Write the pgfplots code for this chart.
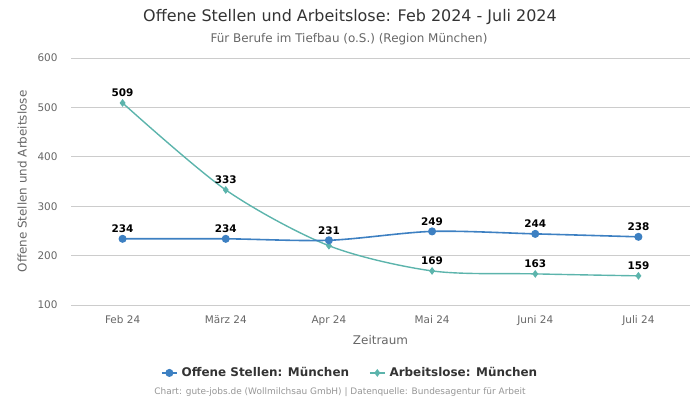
\documentclass[border=0pt]{standalone}
\usepackage{pgfplots}
\pgfplotsset{compat=1.18}
\usepackage{fontspec}
\setmainfont{DejaVu Sans}
\definecolor{cblue}{RGB}{61,128,194}
\definecolor{cteal}{RGB}{92,180,172}
\definecolor{tgray}{RGB}{102,102,102}
\definecolor{ggray}{RGB}{204,204,204}
\definecolor{dark}{RGB}{51,51,51}
\definecolor{src}{RGB}{150,150,150}
\begin{document}
\begin{tikzpicture}[x=1bp,y=1bp]
\useasboundingbox (0,0) rectangle (700,400);
\node[font=\fontsize{16}{18}\selectfont, text=dark] at (350,383) {Offene Stellen und Arbeitslose: Feb 2024 - Juli 2024};
\node[font=\fontsize{12}{14}\selectfont, text=tgray] at (349,361) {Für Berufe im Tiefbau (o.S.) (Region München)};
\node[font=\fontsize{9}{11}\selectfont, text=src] at (340,8) {Chart: gute-jobs.de (Wollmilchsau GmbH) | Datenquelle: Bundesagentur für Arbeit};
\begin{axis}[
  at={(71bp,95bp)}, anchor=south west,
  scale only axis, width=619bp, height=247bp,
  xmin=-0.5, xmax=5.5, ymin=100, ymax=600,
  xtick={0,1,2,3,4,5},
  xticklabels={Feb 24, März 24, Apr 24, Mai 24, Juni 24, Juli 24},
  ytick={100,200,300,400,500,600},
  axis line style={draw=none},
  major tick length=0pt,
  ymajorgrids, grid style={ggray, line width=0.8pt},
  tick label style={font=\fontsize{10.5}{12}\selectfont, text=tgray},
  /pgf/number format/assume math mode=true,
  yticklabel style={xshift=-10bp},
  xticklabel style={yshift=-7bp},
  xlabel={Zeitraum}, ylabel={Offene Stellen und Arbeitslose},
  label style={font=\fontsize{12}{14}\selectfont, text=tgray},
  xlabel style={at={(axis description cs:0.5,-0.142)}, anchor=center},
  ylabel style={at={(axis description cs:-0.079,0.5)}, anchor=center},
  every node near coord/.append style={font=\bfseries\fontsize{10.5}{12}\selectfont, text=black, yshift=2bp},
  legend style={at={(axis description cs:0.451,-0.275)}, anchor=center, draw=none, fill=none,
    legend columns=2, font=\bfseries\fontsize{12}{14}\selectfont, text=dark,
    /tikz/every odd column/.append style={column sep=2bp},
    /tikz/every even column/.append style={column sep=18bp}},
  legend image code/.code={\draw[#1] (0bp,0bp) -- (15bp,0bp); \draw[#1, only marks] plot coordinates {(7.5bp,0bp)};},
]
\addplot[cteal, line width=1.4pt, smooth, tension=0.5, mark=diamond*, mark size=2.8pt, mark options={fill=cteal, draw=cteal}, forget plot,
  nodes near coords, point meta=explicit symbolic]
  coordinates {(0,509)[509] (1,333)[333] (2,220)[] (3,169)[169] (4,163)[163] (5,159)[159]};
\addplot[cblue, line width=1.6pt, smooth, tension=0.5, mark=*, mark size=3.2pt, mark options={fill=cblue, draw=cblue}, nodes near coords]
  coordinates {(0,234) (1,234) (2,231) (3,249) (4,244) (5,238)};
\addlegendentry{Offene Stellen: München}
\addlegendimage{cteal, line width=1.4pt, mark=diamond*, mark size=2.8pt, mark options={fill=cteal}}
\addlegendentry{Arbeitslose: München}
\end{axis}
\end{tikzpicture}
\end{document}
